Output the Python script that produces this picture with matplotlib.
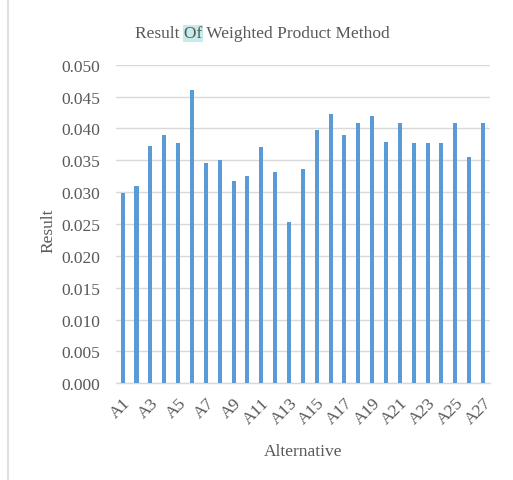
import matplotlib
matplotlib.use("Agg")
import matplotlib.pyplot as plt
from matplotlib.patches import Rectangle
from matplotlib.lines import Line2D

categories = [f"A{i}" for i in range(1, 28)]
values = [0.0299, 0.0309, 0.0372, 0.0390, 0.0377, 0.0461, 0.0345, 0.0350, 0.0317,
          0.0326, 0.0371, 0.0332, 0.0253, 0.0337, 0.0397, 0.0423, 0.0389, 0.0408,
          0.0419, 0.0379, 0.0408, 0.0377, 0.0377, 0.0377, 0.0408, 0.0355, 0.0408]
yticks = [0.000, 0.005, 0.010, 0.015, 0.020, 0.025, 0.030, 0.035, 0.040, 0.045, 0.050]

plt.rcParams['font.family'] = ['Liberation Serif', 'DejaVu Serif']
text_color = '#595959'
fs = 12.5

fig = plt.figure(figsize=(5.13, 4.81), dpi=100)
W, H = 513, 481
ax = fig.add_axes([115.7 / W, (H - 384.3) / H, 374.3 / W, 318.6 / H])

x = list(range(len(categories)))
ax.bar(x, values, width=0.29, color='#5b9bd5', zorder=3)
ax.set_xlim(-0.5, len(categories) - 0.5)
ax.set_ylim(0, 0.050)
ax.set_yticks(yticks)
ax.set_yticklabels([f"{v:.3f}" for v in yticks], fontsize=fs, color=text_color)
ax.set_xticks(x[::2])
ax.set_xticklabels(categories[::2], rotation=45, ha='right', va='top',
                   rotation_mode='anchor', fontsize=fs, color=text_color)
ax.tick_params(axis='both', length=0)
ax.tick_params(axis='y', pad=11)
ax.tick_params(axis='x', pad=8)
ax.grid(axis='y', color='#d9d9d9', linewidth=1.0, zorder=0)
for s in ['top', 'right', 'left']:
    ax.spines[s].set_visible(False)
ax.spines['bottom'].set_color('#d9d9d9')
ax.spines['bottom'].set_linewidth(1.0)

fig.text(303 / W, 1 - 452 / H, "Alternative", ha='center', va='center',
         fontsize=fs, color=text_color)
fig.text(48 / W, 1 - 231 / H, "Result", ha='center', va='center', rotation=90,
         fontsize=fs, color=text_color)

# title with highlighted "Of"
title = "Result Of Weighted Product Method"
tx, ty = 262 / W, 1 - 33.5 / H
t = fig.text(tx, ty, title, ha='center', va='center', fontsize=fs, color=text_color, zorder=5)
renderer = fig.canvas.get_renderer()
bb = t.get_window_extent(renderer)
tmp1 = fig.text(0, 0, "Result ", fontsize=fs)
tmp2 = fig.text(0, 0, "Result Of", fontsize=fs)
w1 = tmp1.get_window_extent(renderer).width
w2 = tmp2.get_window_extent(renderer).width
tmp1.remove(); tmp2.remove()
x0 = (bb.x0 + w1 - 1) / W
x1 = (bb.x0 + w2 + 1) / W
fig.patches.append(Rectangle((x0, 1 - 43 / H), x1 - x0, 17 / H, transform=fig.transFigure,
                             facecolor='#c6ebeb', edgecolor='none', zorder=1))

# left border line
fig.lines.append(Line2D([8 / W, 8 / W], [0, 1], transform=fig.transFigure,
                        color='#e0e0e0', linewidth=1.5))

fig.savefig("out.png", dpi=100)
